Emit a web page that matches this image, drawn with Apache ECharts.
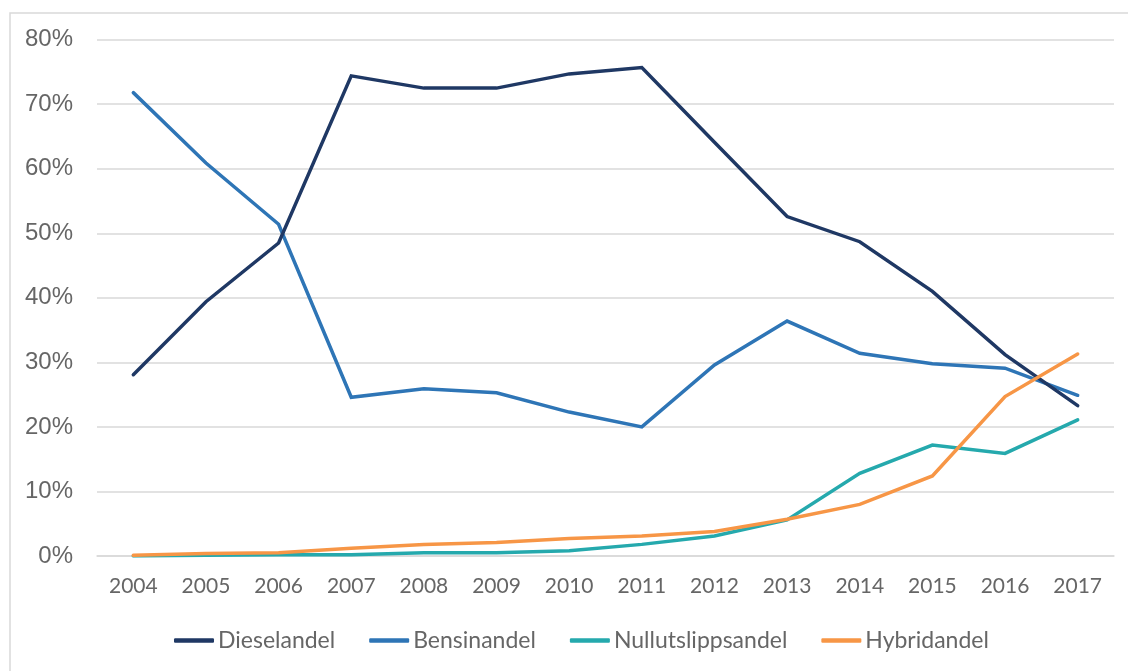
<!DOCTYPE html>
<html>
<head>
<meta charset="utf-8">
<script src="https://cdn.jsdelivr.net/npm/echarts@6/dist/echarts.min.js"></script>
<style>
html,body{margin:0;padding:0;background:#fff;}
#c{width:1128px;height:671px;}
</style>
</head>
<body>
<div id="c"></div>
<script>
const years = ['2004','2005','2006','2007','2008','2009','2010','2011','2012','2013','2014','2015','2016','2017'];
const diesel = [28.1, 39.4, 48.5, 74.4, 72.5, 72.5, 74.7, 75.7, 64.1, 52.6, 48.7, 41.0, 31.2, 23.3];
const bensin = [71.8, 60.9, 51.4, 24.6, 25.9, 25.3, 22.3, 20.0, 29.6, 36.4, 31.4, 29.8, 29.1, 24.9];
const nullutslipp = [0.0, 0.1, 0.2, 0.2, 0.5, 0.5, 0.8, 1.8, 3.1, 5.6, 12.8, 17.2, 15.9, 21.1];
const hybrid = [0.1, 0.4, 0.5, 1.2, 1.8, 2.1, 2.7, 3.1, 3.8, 5.7, 8.0, 12.4, 24.7, 31.3];
const names = ['Dieselandel','Bensinandel','Nullutslippsandel','Hybridandel'];
const colors = {Dieselandel:'#1f3864', Bensinandel:'#2e75b6', Nullutslippsandel:'#25a9ad', Hybridandel:'#f79646'};

const chart = echarts.init(document.getElementById('c'), null, {renderer:'canvas'});
const textColor = '#666666';
function line(name, data, z){
  return {name, type:'line', data, symbol:'none', z,
    itemStyle:{color:colors[name]},
    lineStyle:{color:colors[name], width:3.5, cap:'round', join:'miter'}};
}
chart.setOption({
  animation:false,
  graphic:[{type:'rect', shape:{x:10, y:13, width:1200, height:700},
    style:{fill:'none', stroke:'#d9d9d9', lineWidth:1.5}, silent:true}],
  grid:{left:97, right:14, top:39.7, bottom:115, containLabel:false},
  legend:{
    data:names, left:174, top:629, padding:0, icon:'roundRect', itemWidth:40, itemHeight:4.5, itemGap:34,
    textStyle:{color:textColor, fontSize:23, fontFamily:'Lato', padding:[0,0,0,-1]}
  },
  xAxis:{type:'category', data:years, boundaryGap:true,
    axisLine:{show:true, lineStyle:{color:'#d9d9d9', width:1.5}},
    axisTick:{show:false},
    axisLabel:{color:textColor, fontSize:21, fontFamily:'Lato', margin:20}},
  yAxis:{type:'value', min:0, max:80, interval:10,
    axisLine:{show:false}, axisTick:{show:false},
    splitLine:{lineStyle:{color:'#d9d9d9', width:1.5}},
    axisLabel:{color:textColor, fontSize:24, fontFamily:'Liberation Sans', margin:24, formatter:'{value}%'}},
  series:[
    line('Bensinandel', bensin, 2),
    line('Dieselandel', diesel, 3),
    line('Nullutslippsandel', nullutslipp, 4),
    line('Hybridandel', hybrid, 5)
  ]
});
</script>
</body>
</html>
